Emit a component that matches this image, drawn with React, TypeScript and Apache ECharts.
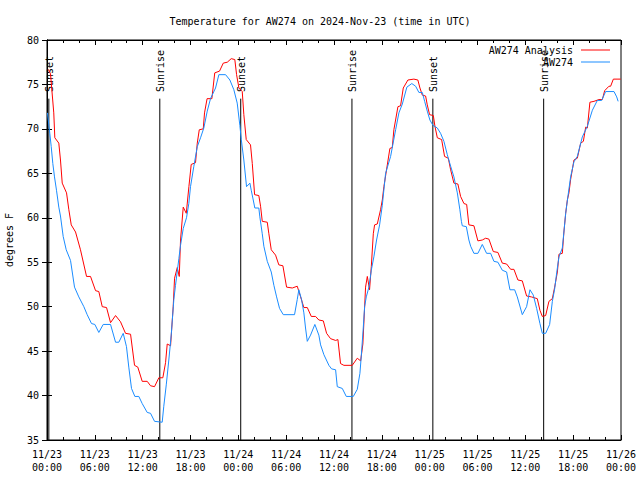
import React, { useEffect, useRef } from "react";
import * as echarts from "echarts";

// hours since 2024-11-23 00:00 UTC
const analysisHours = [0.15,0.44,0.85,0.98,1.48,1.69,1.91,2.45,2.74,3.04,3.58,4.2,4.96,5.46,6.09,6.5,6.93,7.47,7.97,8.6,9.22,9.85,10.48,10.98,11.39,11.94,12.57,12.99,13.49,14.03,14.53,14.87,15.08,15.5,15.83,16.0,16.34,16.59,16.75,17.09,17.47,17.8,18.09,18.63,18.85,19.1,19.6,19.76,20.08,20.68,21.04,21.64,22.11,22.61,23.11,23.56,23.78,24.07,24.49,24.69,24.99,25.53,25.75,26.04,26.57,26.79,27.0,27.63,27.83,28.13,28.67,29.08,29.59,30.05,30.77,31.39,31.81,32.22,32.65,33.15,33.69,34.1,34.66,35.07,35.57,36.2,36.49,36.82,37.24,38.29,38.92,39.34,39.62,39.96,40.18,40.46,40.68,40.93,41.09,41.43,41.84,42.06,42.26,43.01,43.31,43.51,44.02,44.35,44.69,45.27,46.02,46.52,46.78,47.08,47.49,47.7,47.99,48.46,48.66,48.96,49.5,49.87,50.34,50.63,51.04,51.54,51.88,52.3,52.64,52.92,53.55,54.05,54.6,55.02,55.43,55.98,56.56,57.11,57.65,58.16,58.57,59.07,59.62,60.16,60.75,61.5,61.83,62.13,62.55,62.96,63.39,63.68,64.02,64.22,64.64,64.84,65.06,65.27,65.47,65.68,66.1,66.52,66.94,67.28,67.57,67.78,68.1,68.61,69.24,69.66,69.95,70.49,70.7,71.04,71.62,71.96];
const analysisTemps = [76.7,76.2,71.8,69,68.4,66.5,63.9,62.8,60.9,59.2,58.4,56.4,53.4,53.4,51.8,51.7,50,49.9,48.2,49,48.3,47,46.9,43.4,43.2,41.6,41.6,41.1,41,42,42,43.7,45.8,45.6,50,53.2,54.4,53.4,57.5,61.2,60.5,63.5,66,66.2,68.4,69.9,70,71.8,73.4,73.4,76.3,76.5,77.4,77.5,77.9,77.8,76.1,74.6,74.2,71.6,68.8,68.2,66.1,62.6,62.5,61.3,59.6,59.5,58.2,56.4,55.8,54.7,54.6,52.2,52.1,52.3,51.1,49.9,49.9,48.9,48.9,48.5,48.4,47,46.4,46.2,46.3,43.6,43.4,43.4,44.2,43.9,45.8,52.2,53.4,51.9,54.5,58.2,59.2,59.3,60.9,62,63.5,67.8,67.9,69.9,72.5,72.6,74.6,75.5,75.6,75.5,74.6,73.8,73.7,72.7,71.6,71.5,70.3,69,68.8,66.9,66.7,65.4,63.9,63.8,62.4,61.6,61.5,59.2,59.1,57.4,57.5,57.7,57.6,56.2,56.1,54.9,54.8,54.2,54.2,53,52.9,51.2,51.1,50.9,49.6,48.9,49,50.6,50.9,52.2,53.9,55.9,56,58.4,60.5,62,62.8,64.3,66.5,66.7,68.4,68.6,70.2,70.1,73,73.1,73.3,73.3,74.3,74.8,74.8,75.6,75.6,75.6];

const stationHours = [0.06,0.35,0.53,0.73,0.94,1.19,1.48,1.69,2.03,2.41,2.95,3.45,3.99,4.62,5.04,5.58,6.0,6.5,7.05,7.97,8.6,9.01,9.56,9.97,10.26,10.6,11.02,11.52,11.94,12.57,12.99,13.49,14.45,14.65,14.96,15.28,15.58,15.91,16.12,16.54,16.75,17.09,17.5,17.79,18.0,18.42,18.85,19.26,19.67,20.1,20.51,21.14,21.56,22.4,22.94,23.44,23.86,24.19,24.37,24.69,25.03,25.45,25.62,25.87,26.07,26.57,26.7,27.0,27.2,27.63,28.13,28.46,28.8,29.17,29.64,31.05,31.39,31.59,31.93,32.22,32.43,32.65,33.06,33.6,34.1,34.32,34.73,35.36,35.7,36.2,36.41,37.04,37.54,38.42,38.92,39.25,39.42,39.67,39.84,40.05,40.38,40.68,41.0,41.34,41.72,42.06,42.47,43.1,43.73,44.14,44.57,45.14,45.76,46.24,46.65,47.08,47.37,47.7,48.03,48.41,48.96,49.37,49.79,50.21,50.63,51.04,51.47,51.79,51.98,52.09,52.6,52.92,53.14,53.55,54.05,54.6,55.14,55.65,56.06,56.56,57.11,57.65,58.07,58.66,58.99,59.62,60.16,60.58,61.0,61.42,61.83,62.13,62.55,63.05,63.39,63.68,63.93,64.22,64.64,64.84,65.06,65.31,65.68,66.1,66.52,67.15,67.78,68.41,69.03,69.57,70.07,71.12,71.46,71.64];
const stationTemps = [71.8,69.5,68,66.1,64.6,63.1,61.2,60.2,57.9,56.4,55.2,52.2,51.1,50,49.1,48.1,48,47.1,48,48,46,46,47,45.5,43.2,40.8,39.9,39.9,39.1,38.1,38,37.1,37,38.8,41.2,44,46.8,50.8,52.4,55.4,56.9,58.8,60,61.6,63.5,65.8,68,69,70.1,72,73.4,74.6,76.1,76.1,75.5,74.4,72.9,70.4,68.8,66.5,63.5,63.9,63.1,62,61.1,61.1,60.1,58.2,56.8,55.1,53.9,52.4,51.1,49.8,49.1,49.1,50.8,51.9,50.8,49.3,47.6,46.1,46.8,48,46.8,45.7,44.6,43.4,43,42.9,41,40.8,39.9,39.9,40.7,42.5,44.4,47.6,50,51.1,52.2,54.1,55.6,57.5,59.2,61.4,65,66.9,69.9,71.8,72.8,74.7,75.1,74.8,74.1,74.1,73.1,72,71,70.4,70.1,69.5,68.6,67.1,65.8,64.6,62.8,60.9,59.6,59.1,59,57.5,56.8,56,56,57,56,56,55.1,55,54.1,53.9,51.9,51.9,51.1,49.1,50,51.9,51.3,49.8,48.1,47,47,48,50.6,52,53.8,55.6,56.6,58.4,60.5,62.2,64.6,66.3,66.9,69.1,70.3,72.1,73.2,73.2,74.2,74.2,73.6,73.1];

const sunHours = [0.23, 14.15, 24.3, 38.25, 48.4, 62.3];
const sunLabels = ["Sunset", "Sunrise", "Sunset", "Sunrise", "Sunset", "Sunrise"];

const FONT = "DejaVu Sans Mono";

function fmtX(h: number) {
  const day = 23 + Math.floor(h / 24);
  const hr = h % 24;
  return `11/${day}\n${String(hr).padStart(2, "0")}:00`;
}

export default function App() {
  const ref = useRef<HTMLDivElement>(null);
  useEffect(() => {
    if (!ref.current) return;
    const chart = echarts.init(ref.current, null, { renderer: "svg" });
    const textStyle = { fontFamily: FONT, fontSize: 10, color: "#000" };
    const legendBase = {
      orient: "horizontal",
      right: 30,
      align: "right",
      icon: "rect",
      itemWidth: 29,
      itemHeight: 1,
      padding: 0,
      textStyle: { ...textStyle, padding: [0, 3, 0, 0] },
      selectedMode: false,
    };
    chart.setOption({
      animation: false,
      backgroundColor: "#fff",
      title: {
        text: "Temperature for AW274 on 2024-Nov-23 (time in UTC)",
        left: "center",
        top: 11,
        textStyle: { ...textStyle, fontWeight: "normal" },
      },
      legend: [
        { ...legendBase, top: 45, data: ["AW274 Analysis"] },
        { ...legendBase, top: 57, data: ["AW274"] },
      ],
      grid: {
        left: 47,
        right: 19,
        top: 40,
        bottom: 40,
        containLabel: false,
        outerBoundsMode: "none",
        show: true,
        borderColor: "#000",
        borderWidth: 1,
      },
      xAxis: [
        {
          type: "value",
          min: 0,
          max: 72,
          interval: 6,
          axisLine: { show: true, lineStyle: { color: "#000" } },
          axisTick: { show: true, inside: true, length: 5, lineStyle: { color: "#000" } },
          minorTick: { show: true, splitNumber: 3, length: 3, lineStyle: { color: "#000" } },
          splitLine: { show: false },
          axisLabel: { ...textStyle, margin: 8, lineHeight: 13, formatter: (v: number) => fmtX(v) },
        },
        {
          type: "value",
          position: "top",
          min: 0,
          max: 72,
          interval: 6,
          axisLine: { show: true, lineStyle: { color: "#000" } },
          axisTick: { show: true, inside: true, length: 5, lineStyle: { color: "#000" } },
          minorTick: { show: true, splitNumber: 3, length: 3, lineStyle: { color: "#000" } },
          splitLine: { show: false },
          axisLabel: { show: false },
        },
      ],
      yAxis: [
        {
          type: "value",
          min: 35,
          max: 80,
          interval: 5,
          name: "degrees F",
          nameLocation: "middle",
          nameGap: 33,
          nameTextStyle: textStyle,
          axisLine: { show: true, lineStyle: { color: "#000" } },
          axisTick: { show: true, inside: true, length: 5, lineStyle: { color: "#000" } },
          splitLine: { show: false },
          axisLabel: { ...textStyle, margin: 8 },
        },
        {
          type: "value",
          position: "right",
          min: 35,
          max: 80,
          interval: 5,
          axisLine: { show: true, lineStyle: { color: "#000" } },
          axisTick: { show: true, inside: true, length: 5, lineStyle: { color: "#000" } },
          splitLine: { show: false },
          axisLabel: { show: false },
        },
      ],
      series: [
        {
          type: "custom",
          name: "sun",
          xAxisIndex: 0,
          yAxisIndex: 0,
          z: 1,
          data: sunHours.map((h) => [h, 35]),
          renderItem: (params: any, api: any) => {
            const h = api.value(0);
            const b = api.coord([h, 35]);
            const t = api.coord([h, 73.4]);
            const l = api.coord([h, 74.15]);
            return {
              type: "group",
              children: [
                {
                  type: "line",
                  shape: { x1: b[0], y1: b[1], x2: t[0], y2: t[1] },
                  style: { stroke: "#000", lineWidth: 1 },
                },
                {
                  type: "text",
                  x: l[0] + 1,
                  y: l[1],
                  rotation: Math.PI / 2,
                  style: {
                    text: sunLabels[params.dataIndex],
                    fontFamily: FONT,
                    fontSize: 10,
                    fill: "#000",
                    align: "left",
                    verticalAlign: "middle",
                  },
                },
              ],
            };
          },
        },
        {
          type: "line",
          name: "AW274 Analysis",
          symbol: "none",
          color: "#ff0000",
          lineStyle: { width: 1, color: "#ff0000" },
          z: 2,
          data: analysisHours.map((h, i) => [h, analysisTemps[i]]),
        },
        {
          type: "line",
          name: "AW274",
          symbol: "none",
          color: "#1a8cff",
          lineStyle: { width: 1, color: "#1a8cff" },
          z: 3,
          data: stationHours.map((h, i) => [h, stationTemps[i]]),
        },
      ],
    });
    return () => chart.dispose();
  }, []);
  return <div ref={ref} style={{ position: "fixed", left: 0, top: 0, width: 640, height: 480 }} />;
}
